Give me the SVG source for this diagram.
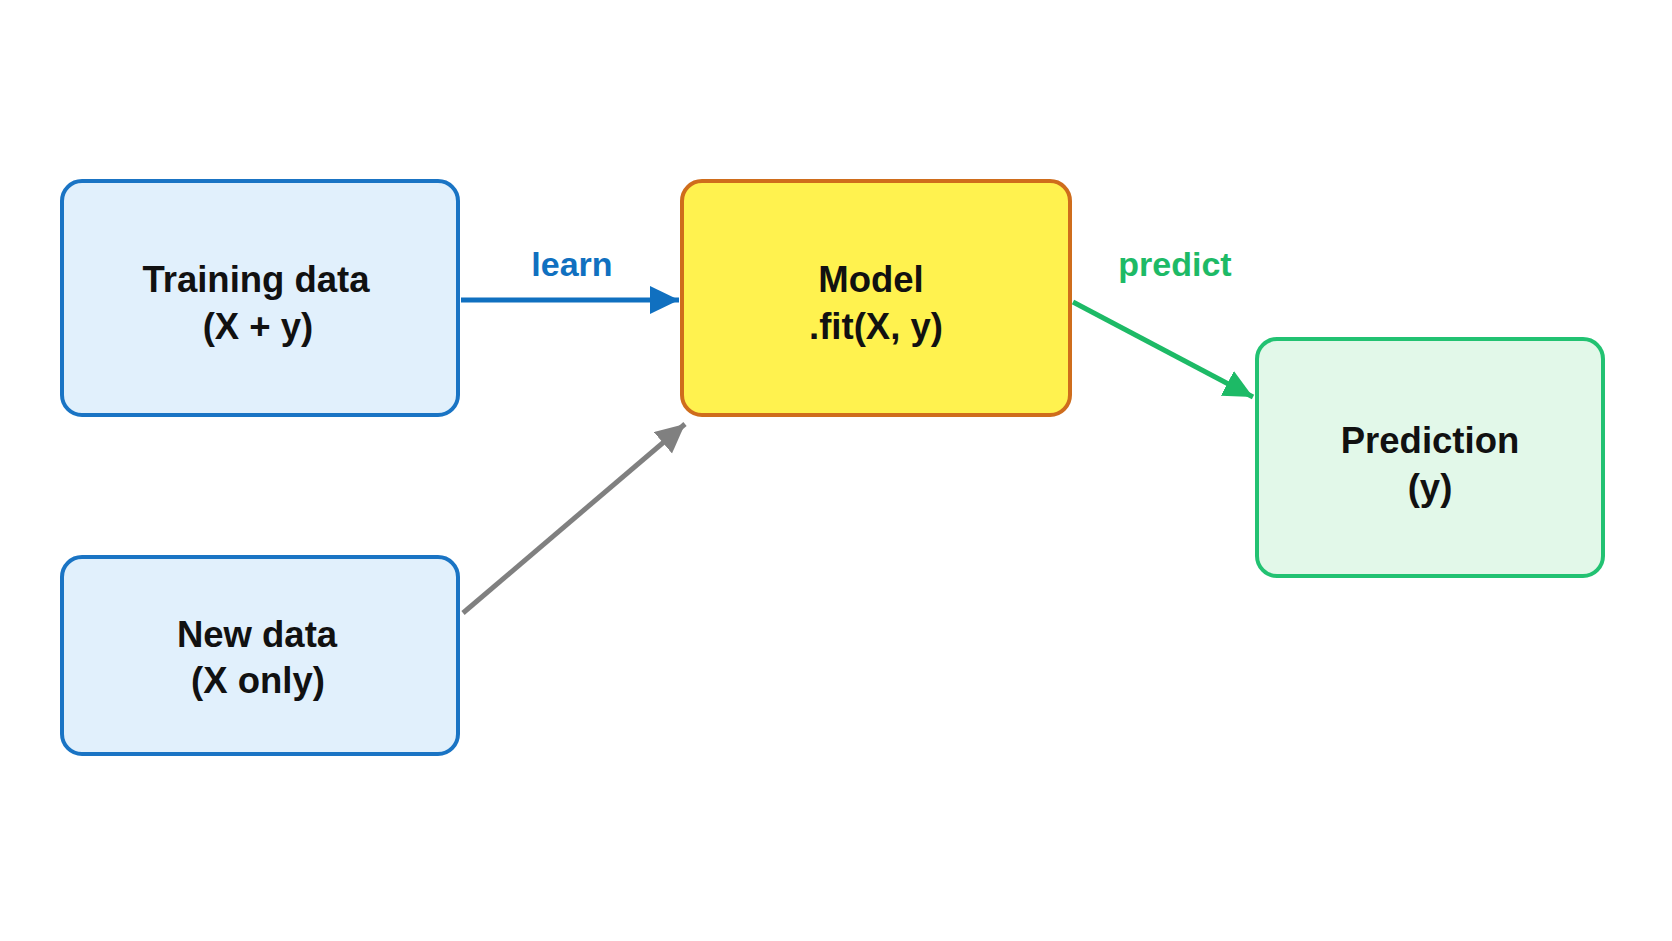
<svg xmlns="http://www.w3.org/2000/svg" width="1672" height="941" viewBox="0 0 1672 941">
<style>
.t{font-family:"Liberation Sans",Arial,sans-serif;font-weight:bold;font-size:36.5px;fill:#111111;text-anchor:middle}
.lbl{font-family:"Liberation Sans",Arial,sans-serif;font-weight:bold;font-size:34px;text-anchor:middle}
.blue{fill:#e1f0fc;stroke:#1a74c4;stroke-width:4}
.yel{fill:#fff24f;stroke:#cf6d1c;stroke-width:4}
.grn{fill:#e2f8e9;stroke:#22c272;stroke-width:4}
.c{fill:none;stroke-width:5}
</style>
<defs>
<marker id="ab" markerUnits="userSpaceOnUse" markerWidth="32" markerHeight="30" refX="29" refY="14" orient="auto"><path d="M0,0 L29,14 L0,28 Z" fill="#1070c0"/></marker>
<marker id="ag" markerUnits="userSpaceOnUse" markerWidth="32" markerHeight="30" refX="29" refY="14" orient="auto"><path d="M0,0 L29,14 L0,28 Z" fill="#808080"/></marker>
<marker id="agr" markerUnits="userSpaceOnUse" markerWidth="32" markerHeight="30" refX="29" refY="14" orient="auto"><path d="M0,0 L29,14 L0,28 Z" fill="#1dba66"/></marker>
</defs>
<rect width="1672" height="941" fill="#ffffff"/>
<g id="connectors">
<line class="c" x1="461" y1="300" x2="679" y2="300" stroke="#1070c0" marker-end="url(#ab)"/>
<line class="c" x1="463" y1="613" x2="685" y2="424" stroke="#808080" marker-end="url(#ag)"/>
<line class="c" x1="1073" y1="302" x2="1253" y2="397" stroke="#1dba66" marker-end="url(#agr)"/>
<text class="lbl" x="572" y="276" fill="#1070c0">learn</text>
<text class="lbl" x="1175" y="276" fill="#1dba66">predict</text>
</g>
<g id="training">
<rect class="blue" x="62" y="181" width="396" height="234" rx="20"/>
<text class="t" x="256" y="292">Training data</text>
<text class="t" x="258" y="339">(X + y)</text>
</g>
<g id="newdata">
<rect class="blue" x="62" y="557" width="396" height="197" rx="20"/>
<text class="t" x="257" y="647">New data</text>
<text class="t" x="258" y="693">(X only)</text>
</g>
<g id="model">
<rect class="yel" x="682" y="181" width="388" height="234" rx="20"/>
<text class="t" x="871" y="292">Model</text>
<text class="t" x="876" y="339">.fit(X, y)</text>
</g>
<g id="prediction">
<rect class="grn" x="1257" y="339" width="346" height="237" rx="20"/>
<text class="t" x="1430" y="453">Prediction</text>
<text class="t" x="1430" y="500">(y)</text>
</g>
</svg>
